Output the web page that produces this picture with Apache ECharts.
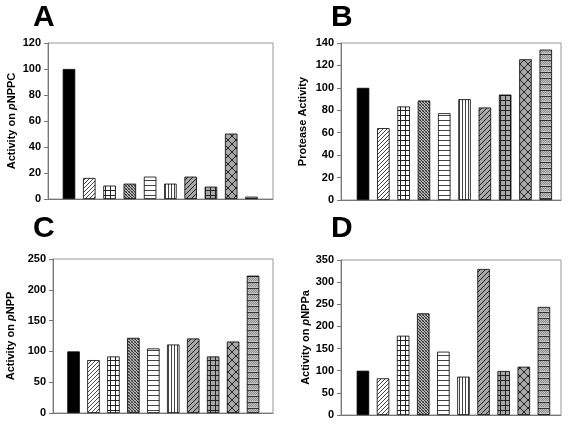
<!DOCTYPE html>
<html><head><meta charset="utf-8">
<script src="https://cdn.jsdelivr.net/npm/echarts@6/dist/echarts.min.js"></script>
<style>html,body{margin:0;padding:0;background:#fff}#c{width:569px;height:424px}</style>
</head><body><div id="c"></div>
<script>
// ---- data ----
const barIndex = [0, 1, 2, 3, 4, 5, 6, 7, 8, 9];
const panelLetters = ['A', 'B', 'C', 'D'];
const axisNamesPlain = ['Activity on pNPPC', 'Protease Activity', 'Activity on pNPP', 'Activity on pNPPa'];
const valuesA = [100, 16.2, 10.3, 11.8, 17.2, 11.8, 17.2, 9.5, 50.3, 1.8];
const valuesB = [100, 64.1, 83.4, 88.7, 77.4, 89.9, 82.5, 94, 125.5, 134.1];
const valuesC = [100, 85.9, 91.8, 122, 104.8, 111.2, 121, 91.8, 116, 223];
const valuesD = [100, 82.8, 179, 229.6, 143, 86.6, 329.7, 99.4, 109, 244];
const yMax = [120, 140, 250, 350];
const yInterval = [20, 20, 50, 50];

// ---- patterns ----
function pat(w, h, bg, draw) {
  const c = document.createElement('canvas');
  c.width = w; c.height = h;
  const g = c.getContext('2d');
  g.fillStyle = bg; g.fillRect(0, 0, w, h);
  g.fillStyle = '#000';
  draw(g);
  return { image: c, repeat: 'repeat' };
}
const diag = (g, n) => { for (let i = 0; i < n; i++) g.fillRect(i, n - 1 - i, 1, 1); };
const patterns = [
  '#000',
  pat(4, 4, '#fff', g => { g.fillStyle = '#444'; diag(g, 4); }),
  pat(5, 5, '#fff', g => { g.fillStyle = '#222'; g.fillRect(0, 0, 5, 1); g.fillRect(0, 0, 1, 5); }),
  pat(3, 3, '#bbb', g => { g.fillStyle = '#333'; g.fillRect(0, 0, 1, 1); g.fillRect(1, 1, 1, 1); g.fillRect(2, 2, 1, 1); g.fillStyle = '#777'; g.fillRect(2, 0, 1, 1); g.fillRect(0, 2, 1, 1); }),
  pat(1, 5, '#fff', g => { g.fillStyle = '#444'; g.fillRect(0, 0, 1, 1); }),
  pat(3, 1, '#fff', g => { g.fillStyle = '#444'; g.fillRect(0, 0, 1, 1); }),
  pat(5, 5, '#a8a8a8', g => { g.fillStyle = '#222'; diag(g, 5); }),
  pat(5, 5, '#a8a8a8', g => { g.fillStyle = '#222'; g.fillRect(0, 0, 5, 1); g.fillRect(0, 0, 1, 5); }),
  pat(8, 8, '#a8a8a8', g => { g.fillStyle = '#222'; for (let i = 0; i < 8; i++) { g.fillRect(i, i, 1, 1); g.fillRect(i, 7 - i, 1, 1); } }),
  pat(2, 6, '#c4c4c4', g => { g.fillStyle = '#8a8a8a'; g.fillRect(0, 1, 1, 1); g.fillRect(1, 2, 1, 1); g.fillRect(0, 3, 1, 1); g.fillRect(1, 4, 1, 1); g.fillStyle = '#333'; g.fillRect(0, 0, 2, 1); })
];

// ---- layout ----
const grids = [
  { left: 48, top: 43, width: 225, height: 156 },
  { left: 341, top: 43, width: 220, height: 157 },
  { left: 53, top: 259, width: 220, height: 154 },
  { left: 341, top: 260, width: 220, height: 155 }
];
const xRange = [[-1.035, 10.06], [-1.085, 9.75], [-1.03, 10.0], [-1.09, 9.85]];
const nameGaps = [31, 33, 37, 29];
const letterPos = [[33, 3], [331, 3], [33, 214], [331, 214]];
const allValues = [valuesA, valuesB, valuesC, valuesD];
const FONT = 'Liberation Sans, Arial, sans-serif';

function richName(s) {
  const m = s.match(/^(Activity on )p(.*)$/);
  if (!m) return '{b|' + s + '}';
  return '{b|' + m[1] + '}{i|p}{b|' + m[2] + '}';
}

const option = {
  animation: false,
  backgroundColor: '#fff',
  title: panelLetters.map((t, i) => ({
    text: t, left: letterPos[i][0], top: letterPos[i][1], padding: 0,
    textStyle: { fontSize: 30, fontWeight: 'bold', fontFamily: FONT, color: '#000' }
  })),
  grid: grids.map(g => Object.assign({ show: true, borderColor: '#999', borderWidth: 1, backgroundColor: 'transparent' }, g)),
  xAxis: grids.map((g, i) => ({
    type: 'value', gridIndex: i, min: xRange[i][0], max: xRange[i][1],
    axisLine: { show: true, onZero: false, lineStyle: { color: '#777', width: 1 } },
    axisTick: { show: false }, axisLabel: { show: false }, splitLine: { show: false }
  })),
  yAxis: grids.map((g, i) => ({
    type: 'value', gridIndex: i, min: 0, max: yMax[i], interval: yInterval[i],
    name: richName(axisNamesPlain[i]), nameLocation: 'middle', nameGap: nameGaps[i], nameRotate: 90,
    nameTextStyle: {
      rich: {
        b: { fontSize: 11, fontWeight: 'bold', fontFamily: FONT, color: '#000' },
        i: { fontSize: 11, fontWeight: 'bold', fontStyle: 'italic', fontFamily: FONT, color: '#000' }
      }
    },
    axisLine: { show: true, onZero: false, lineStyle: { color: '#777', width: 1 } },
    axisTick: { show: true, length: 4, inside: false, lineStyle: { color: '#777' } },
    axisLabel: { fontSize: 11, fontWeight: 'bold', fontFamily: FONT, color: '#000', margin: 7 },
    splitLine: { show: false }
  })),
  series: allValues.map((vals, i) => ({
    type: 'bar', xAxisIndex: i, yAxisIndex: i, barWidth: 12.5,
    data: barIndex.map((x, k) => ({
      value: [x, vals[k]],
      itemStyle: { color: patterns[k], borderColor: '#000', borderWidth: 0.8 }
    }))
  }))
};
const chart = echarts.init(document.getElementById('c'), null, { renderer: 'canvas' });
chart.setOption(option);
</script>
</body></html>
